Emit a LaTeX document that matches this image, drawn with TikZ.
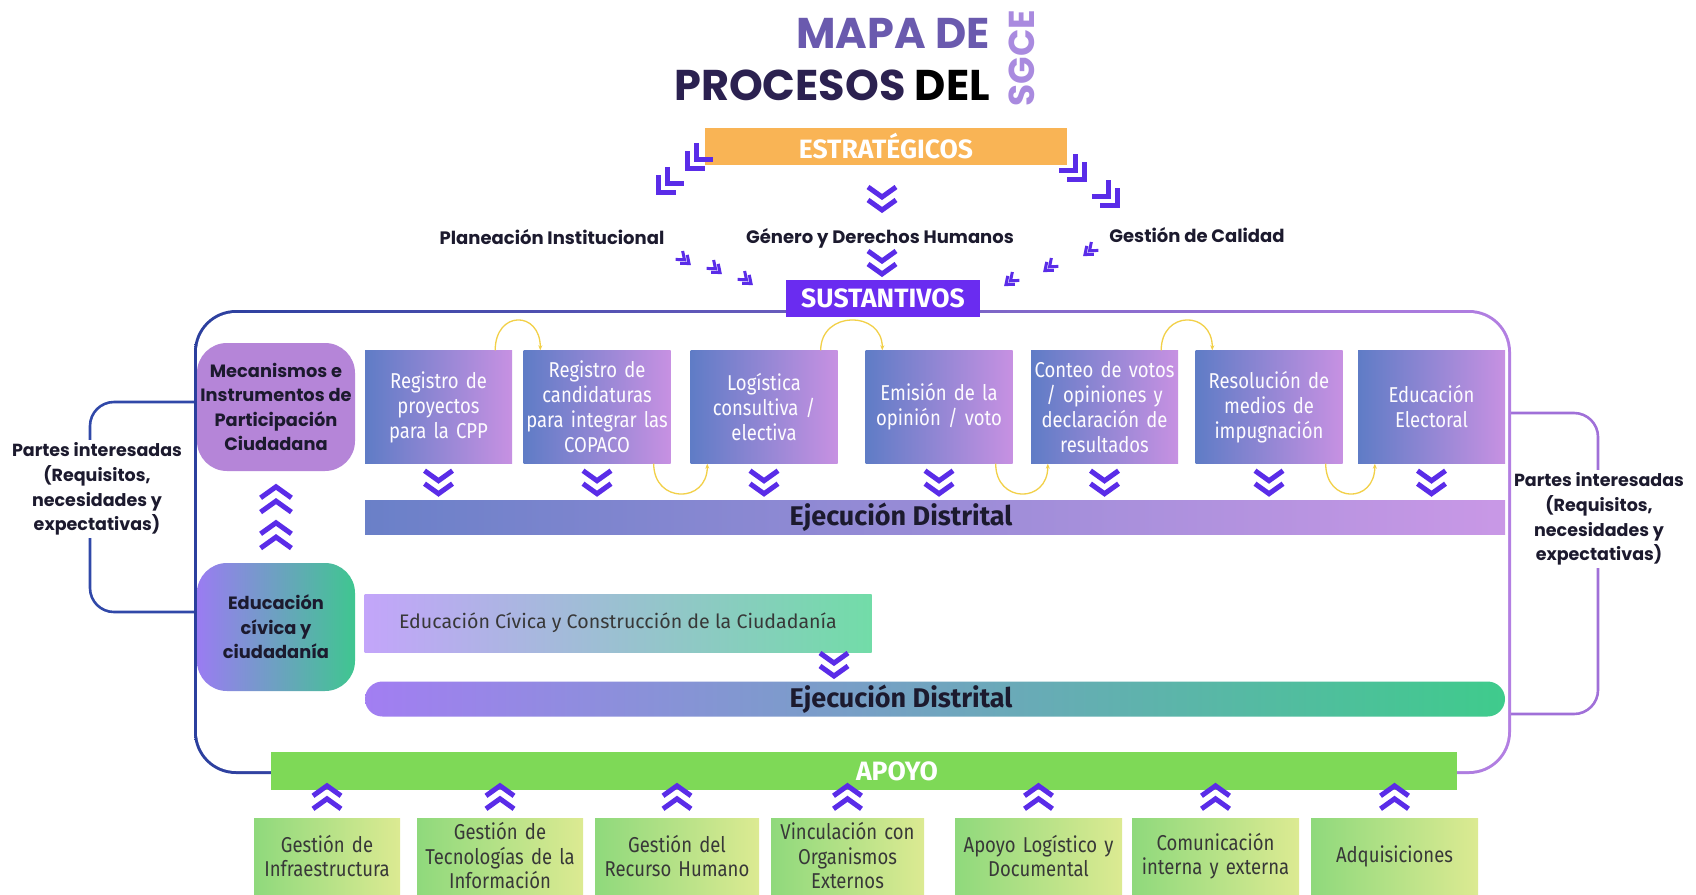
\documentclass[tikz,border=0pt]{standalone}
\usepackage{fontspec}
\setmainfont{Poppins}
\newfontfamily\cond[FakeStretch=0.86]{Fira Sans}
\newfontfamily\plain{Fira Sans}
\usetikzlibrary{arrows.meta}
\definecolor{chevc}{HTML}{5A2CE8}
\definecolor{orangeS}{HTML}{F9B455}
\definecolor{violetS}{HTML}{6A2CF0}
\definecolor{pbL}{HTML}{5F7CC6}
\definecolor{pbR}{HTML}{C791E2}
\definecolor{mecan}{HTML}{B585D8}
\definecolor{greenA}{HTML}{7ED957}
\definecolor{sgL}{HTML}{8FD97C}
\definecolor{sgR}{HTML}{DCEA92}
\definecolor{frameL}{HTML}{2B3F9E}
\definecolor{frameR}{HTML}{B37FE2}
\definecolor{ed1L}{HTML}{C3A5FA}
\definecolor{ed1R}{HTML}{72DCA8}
\definecolor{ej1L}{HTML}{6A80C8}
\definecolor{ej1R}{HTML}{C998E6}
\definecolor{ej2L}{HTML}{A27EF2}
\definecolor{ej2M}{HTML}{7C9BD2}
\definecolor{ej2R}{HTML}{3FCB8C}
\definecolor{ecL}{HTML}{9A7CF2}
\definecolor{ecR}{HTML}{3FC690}
\definecolor{yel}{HTML}{F2D048}
\definecolor{titleA}{HTML}{6A5AAE}
\definecolor{titleB}{HTML}{2B2150}
\definecolor{sgce}{HTML}{A98ADF}
\definecolor{ink}{HTML}{1C1A2E}
\definecolor{brL}{HTML}{3048A8}
\definecolor{brR}{HTML}{A070D8}
\begin{document}
\begin{tikzpicture}[x=1pt,y=-1pt,
  dchev/.pic={\draw[chevc, line width=5, line join=miter, miter limit=10] (-14,-11)--(0,-1)--(14,-11) (-14,2)--(0,12)--(14,2);},
  qchev/.pic={\draw[chevc, line width=5, line join=miter, miter limit=10] (-12,-15)--(0,-3)--(12,-15) (-12,-3)--(0,9)--(12,-3);},
  sqchev/.pic={\draw[chevc, line width=3, line join=miter, miter limit=10] (-5.5,-9)--(0,-2)--(5.5,-9) (-5.5,-3)--(0,4)--(5.5,-3);},
  lbl/.style={font=\bfseries\fontsize{18}{22}\selectfont, text=ink, inner sep=1},
  bar/.style={inner sep=0, text=white, font=\plain\bfseries\fontsize{26.5}{28}\selectfont},
  procbox/.style={minimum width=147, minimum height=113, inner sep=0, left color=pbL, right color=pbR,
     text=white!96!pbR, align=center, text width=147, font=\cond\fontsize{21.5}{25}\selectfont},
  supbox/.style={minimum width=160, minimum height=76, inner sep=0, left color=sgL, right color=sgR,
     text=black!78, align=center, text width=160, font=\cond\fontsize{21.5}{24.5}\selectfont},
  roundbox/.style={rounded corners=30, minimum width=158, minimum height=128, inner sep=0, align=center,
     text=ink, font=\bfseries\fontsize{17.8}{24.5}\selectfont},
  pint/.style={fill=white, align=center, text=ink, inner sep=2, font=\bfseries\fontsize{17.5}{24.8}\selectfont},
  yarc/.style={yel, line width=1.3, -{Stealth[length=5,width=4]}},
  ejtxt/.style={text=ink, font=\plain\bfseries\fontsize{27}{28}\selectfont, inner sep=0}
]
\useasboundingbox (0,0) rectangle (1696,894);

% ---------- title ----------
\node[anchor=east, inner sep=0, text=titleA, font=\bfseries\fontsize{43}{43}\selectfont] (t1) at (990,33) {MAPA DE};
\node[anchor=east, inner sep=0, font=\bfseries\fontsize{43}{43}\selectfont] (t2) at (990,85) {\textcolor{titleB}{PROCESOS} \textcolor{black}{DEL}};
\node[rotate=90, inner sep=0, text=sgce, font=\bfseries\fontsize{36}{36}\selectfont] (t3) at (1022,58) {SGCE};

% ---------- strategic ----------
\node[bar, fill=orangeS, minimum width=362, minimum height=37] (estr) at (886,146) {ESTRATÉGICOS};
\pic[rotate=-45] at (694,162) {qchev};
\pic[rotate=-45] at (665,186) {qchev};
\pic[rotate=45] at (1078,173) {qchev};
\pic[rotate=45] at (1111,199) {qchev};
\pic at (882,198) {dchev};

\node[lbl] (plan) at (552,237) {Planeación Institucional};
\node[lbl] (gen) at (880,238) {Género y Derechos Humanos};
\node[lbl] (cal) at (1197,235) {Gestión de Calidad};

\pic[rotate=50] at (686,261) {sqchev};
\pic[rotate=50] at (717,270) {sqchev};
\pic[rotate=50] at (748,281) {sqchev};
\pic[rotate=-50] at (1088,252) {sqchev};
\pic[rotate=-50] at (1048,268) {sqchev};
\pic[rotate=-50] at (1009,282) {sqchev};

% ---------- brackets ----------
\coordinate (fl1) at (197,402);
\coordinate (fl2) at (197,612);
\coordinate (fr1) at (1508,413);
\coordinate (fr2) at (1508,714);
\draw[brL, line width=2.6, rounded corners=24] (fl1) -| (90,612) -- (fl2);
\draw[brR, line width=2.6, rounded corners=24] (fr1) -| (1598,714) -- (fr2);
\node[pint] (pl) at (97,489) {Partes interesadas\\(Requisitos,\\necesidades y\\expectativas)};
\node[pint] (pr) at (1599,519) {Partes interesadas\\(Requisitos,\\necesidades y\\expectativas)};

% ---------- frame ----------
\shade[left color=frameL, right color=frameR, rounded corners=42] (194,310) rectangle (1511,774);
\fill[white, rounded corners=39] (197,313) rectangle (1508,771);

% ---------- substantive ----------
\node[roundbox, fill=mecan] (mec) at (276,407) {Mecanismos e\\Instrumentos de\\Participación\\Ciudadana};
\node[roundbox, left color=ecL, right color=ecR] (ecc) at (276,627) {Educación\\cívica y\\ciudadanía};
\pic[rotate=180, scale=1.1] at (276,500) {dchev};
\pic[rotate=180, scale=1.1] at (276,536) {dchev};

\node[procbox] (b1) at (438.5,407) {Registro de\\proyectos\\para la CPP};
\node[procbox] (b2) at (597,407) {Registro de\\candidaturas\\para integrar las\\COPACO};
\node[procbox] (b3) at (764,407) {Logística\\consultiva /\\electiva};
\node[procbox] (b4) at (939,407) {Emisión de la\\opinión / voto};
\node[procbox] (b5) at (1104.5,407) {Conteo de votos\\/ opiniones y\\declaración de\\resultados};
\node[procbox] (b6) at (1269,407) {Resolución de\\medios de\\impugnación};
\node[procbox] (b7) at (1431.5,407) {Educación\\Electoral};

\draw[yarc] ([xshift=-17]b1.north east) .. controls +(0,-40) and +(0,-40) .. ([xshift=17]b2.north west);
\draw[yarc] ([xshift=-17]b3.north east) .. controls +(0,-40) and +(0,-40) .. ([xshift=17]b4.north west);
\draw[yarc] ([xshift=-17]b5.north east) .. controls +(0,-40) and +(0,-40) .. ([xshift=17]b6.north west);
\draw[yarc] ([xshift=-17]b2.south east) .. controls +(0,40) and +(0,40) .. ([xshift=17]b3.south west);
\draw[yarc] ([xshift=-17]b4.south east) .. controls +(0,40) and +(0,40) .. ([xshift=17]b5.south west);
\draw[yarc] ([xshift=-17]b6.south east) .. controls +(0,40) and +(0,40) .. ([xshift=17]b7.south west);

\node[inner sep=0, minimum width=1140, minimum height=34, left color=ej1L, right color=ej1R] (ej1) at (935,517) {};
\node[ejtxt] (ej1t) at (901,517) {Ejecución Distrital};
\foreach \b in {b1,b2,b3,b4,b5,b6,b7} { \pic at ([yshift=-18]\b.south) {dchev}; }

\node[inner sep=0, minimum width=507, minimum height=58, left color=ed1L, right color=ed1R,
      text=black!78, font=\plain\fontsize{19.6}{21}\selectfont] (ecb) at (618,623) {Educación Cívica y Construcción de la Ciudadanía};
\node[inner sep=0, minimum width=1140, minimum height=35, rounded corners=17.5, left color=ej2L, middle color=ej2M, right color=ej2R] (ej2) at (935,699) {};
\node[ejtxt] (ej2t) at (901,699) {Ejecución Distrital};
\pic at (834,664) {dchev};

\node[bar, fill=violetS, minimum width=194, minimum height=37] (sust) at (883,298) {SUSTANTIVOS};
\pic at (882,262) {dchev};

% ---------- support ----------
\node[bar, fill=greenA, minimum width=1186, minimum height=38] (apoyo) at (864,771) {};
\node[bar] (apoyot) at (897,771) {APOYO};

\node[supbox, minimum width=146, text width=146] (s1) at (327,856) {Gestión de\\Infraestructura};
\node[supbox, minimum width=166, text width=166] (s2) at (500,856) {Gestión de\\Tecnologías de la\\Información};
\node[supbox, minimum width=164, text width=164] (s3) at (677,856) {Gestión del\\Recurso Humano};
\node[supbox, minimum width=153, text width=153] (s4) at (847.5,856) {Vinculación con\\Organismos\\Externos};
\node[supbox, minimum width=167, text width=167] (s5) at (1038.5,856) {Apoyo Logístico y\\Documental};
\node[supbox, minimum width=167, text width=167] (s6) at (1215.5,856) {Comunicación\\interna y externa};
\node[supbox, minimum width=167, text width=167] (s7) at (1394.5,856) {Adquisiciones};
\foreach \s in {s1,s2,s3,s4,s5,s6,s7} { \pic[rotate=180] at ([yshift=20]\s.north) {dchev}; }
\end{tikzpicture}
\end{document}
